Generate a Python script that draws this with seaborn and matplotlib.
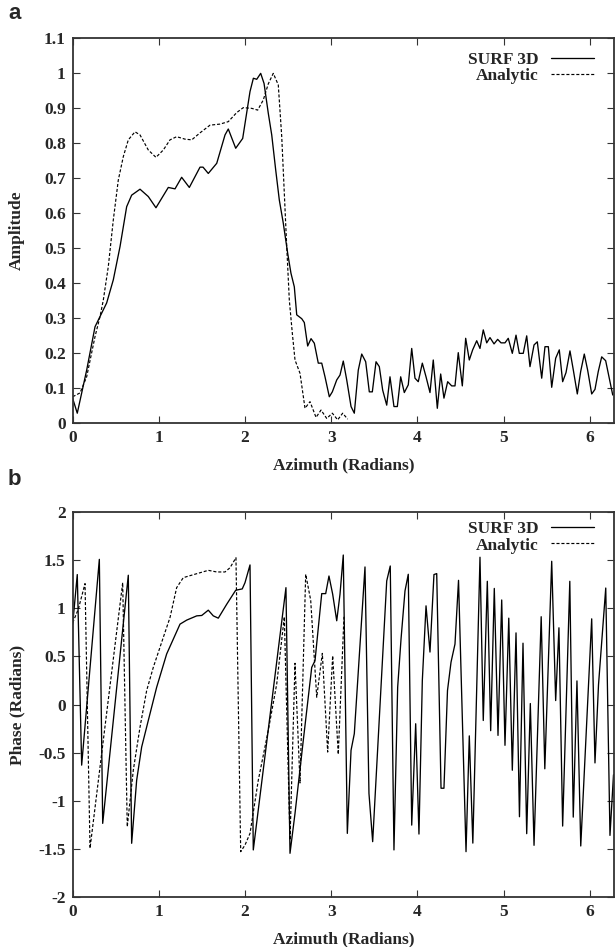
import matplotlib
matplotlib.use("Agg")
import matplotlib.pyplot as plt
import seaborn as sns
import pandas as pd
from matplotlib.lines import Line2D

# ---------------- data ----------------
amp_surf_x = [0.0, 0.053, 0.162, 0.259, 0.317, 0.394, 0.471, 0.549, 0.626, 0.684,
              0.781, 0.877, 0.966, 1.032, 1.109, 1.187, 1.264, 1.353, 1.477, 1.512,
              1.573, 1.671, 1.767, 1.805, 1.891, 1.972, 2.057, 2.096, 2.135, 2.181,
              2.22, 2.269, 2.309, 2.355, 2.397, 2.443, 2.494, 2.532, 2.571, 2.599,
              2.657, 2.687, 2.726, 2.765, 2.803, 2.849, 2.889, 2.927, 2.977, 3.012,
              3.063, 3.101, 3.139, 3.179, 3.229, 3.267, 3.313, 3.353, 3.399, 3.441,
              3.476, 3.519, 3.557, 3.596, 3.643, 3.681, 3.727, 3.766, 3.805, 3.847,
              3.893, 3.933, 3.971, 4.009, 4.056, 4.099, 4.145, 4.183, 4.23, 4.269,
              4.307, 4.35, 4.397, 4.435, 4.473, 4.52, 4.559, 4.601, 4.64, 4.687,
              4.725, 4.763, 4.803, 4.841, 4.888, 4.93, 4.969, 5.015, 5.053, 5.1,
              5.143, 5.181, 5.227, 5.267, 5.305, 5.352, 5.39, 5.441, 5.479, 5.518,
              5.557, 5.603, 5.645, 5.684, 5.723, 5.769, 5.808, 5.854, 5.893, 5.935,
              5.974, 6.021, 6.059, 6.097, 6.137, 6.183, 6.222, 6.265]
amp_surf_y = [0.07, 0.028, 0.151, 0.275, 0.304, 0.343, 0.409, 0.504, 0.618, 0.651,
              0.668, 0.647, 0.615, 0.642, 0.673, 0.669, 0.702, 0.673, 0.731, 0.731,
              0.713, 0.742, 0.823, 0.84, 0.785, 0.813, 0.947, 0.985, 0.982, 0.999,
              0.97, 0.885, 0.823, 0.723, 0.637, 0.571, 0.485, 0.428, 0.389, 0.309,
              0.298, 0.287, 0.22, 0.241, 0.228, 0.171, 0.171, 0.132, 0.075, 0.089,
              0.123, 0.137, 0.177, 0.123, 0.047, 0.028, 0.151, 0.197, 0.175, 0.089,
              0.089, 0.175, 0.161, 0.094, 0.051, 0.132, 0.047, 0.047, 0.132, 0.087,
              0.109, 0.213, 0.128, 0.118, 0.171, 0.132, 0.087, 0.18, 0.042, 0.14,
              0.071, 0.118, 0.106, 0.106, 0.201, 0.106, 0.242, 0.18, 0.209, 0.235,
              0.213, 0.266, 0.229, 0.244, 0.226, 0.239, 0.229, 0.229, 0.242, 0.199,
              0.251, 0.199, 0.199, 0.249, 0.161, 0.223, 0.232, 0.128, 0.218, 0.218,
              0.102, 0.185, 0.209, 0.118, 0.144, 0.206, 0.151, 0.083, 0.147, 0.197,
              0.151, 0.083, 0.096, 0.147, 0.189, 0.178, 0.132, 0.08]

amp_ana_x = [0.0, 0.085, 0.162, 0.259, 0.317, 0.355, 0.413, 0.471, 0.529, 0.587,
             0.645, 0.723, 0.781, 0.877, 0.966, 1.051, 1.129, 1.206, 1.303, 1.381,
             1.477, 1.593, 1.709, 1.805, 1.903, 1.979, 2.077, 2.146, 2.211, 2.269,
             2.327, 2.385, 2.425, 2.455, 2.483, 2.513, 2.548, 2.579, 2.637, 2.695,
             2.753, 2.823, 2.881, 2.947, 3.012, 3.074, 3.132, 3.19]
amp_ana_y = [0.075, 0.086, 0.132, 0.247, 0.304, 0.351, 0.447, 0.58, 0.694, 0.761,
             0.809, 0.832, 0.823, 0.78, 0.759, 0.78, 0.809, 0.818, 0.811, 0.809,
             0.829, 0.851, 0.854, 0.861, 0.887, 0.901, 0.899, 0.894, 0.923, 0.969,
             0.999, 0.966, 0.818, 0.656, 0.504, 0.351, 0.256, 0.18, 0.142, 0.042,
             0.061, 0.016, 0.037, 0.013, 0.028, 0.009, 0.028, 0.011]

ph_surf_x = [0.0, 0.053, 0.104, 0.309, 0.348, 0.645, 0.684, 0.742, 0.8, 0.877,
             0.974, 1.09, 1.245, 1.323, 1.439, 1.497, 1.573, 1.631, 1.689, 1.787,
             1.891, 1.967, 1.999, 2.057, 2.095, 2.474, 2.521, 2.579, 2.675, 2.773,
             2.811, 2.889, 2.935, 2.973, 3.016, 3.063, 3.101, 3.139, 3.186, 3.229,
             3.267, 3.391, 3.437, 3.48, 3.643, 3.684, 3.727, 3.77, 3.809, 3.855,
             3.893, 3.933, 3.979, 4.017, 4.056, 4.099, 4.145, 4.191, 4.223, 4.273,
             4.307, 4.348, 4.389, 4.435, 4.476, 4.563, 4.601, 4.642, 4.725, 4.763,
             4.81, 4.849, 4.891, 4.934, 4.977, 5.015, 5.059, 5.1, 5.143, 5.183,
             5.224, 5.267, 5.309, 5.352, 5.435, 5.477, 5.557, 5.603, 5.641, 5.684,
             5.767, 5.807, 5.85, 5.894, 6.021, 6.059, 6.1, 6.184, 6.233, 6.274]
ph_surf_y = [0.835, 1.35, -0.63, 1.508, -1.235, 1.343, -1.442, -0.787, -0.442, -0.166,
             0.179, 0.525, 0.835, 0.877, 0.921, 0.925, 0.98, 0.921, 0.897, 1.042,
             1.187, 1.201, 1.266, 1.45, -1.511, 1.214, -1.546, -1.132, -0.373, 0.386,
             0.455, 1.152, 1.152, 1.335, 1.146, 0.87, 1.146, 1.553, -1.339, -0.476,
             -0.303, 1.429, -0.924, -1.425, 1.284, 1.439, -1.511, 0.179, 0.68, 1.18,
             1.353, -1.253, -0.2, -1.346, 0.248, 1.025, 0.545, 1.35, 1.36, -0.87,
             -0.87, 0.145, 0.44, 0.628, 1.29, -1.529, -0.326, -1.44, 1.53, -0.166,
             1.28, -0.272, 1.206, -0.321, 1.086, -0.424, 0.897, -0.683, 0.744, -1.166,
             0.637, -1.342, 0.01, -1.463, 0.912, -0.668, 1.488, 0.041, 0.797, -1.263,
             1.28, -1.17, 0.245, -1.47, 0.89, -0.607, 0.205, 1.21, -1.36, -0.73]

ph_ana_x = [0.0, 0.065, 0.143, 0.201, 0.58, 0.633, 0.703, 0.781, 0.858, 0.935,
            1.051, 1.129, 1.206, 1.283, 1.439, 1.573, 1.671, 1.767, 1.825, 1.894,
            1.949, 1.999, 2.057, 2.153, 2.269, 2.367, 2.455, 2.521, 2.579, 2.637,
            2.703, 2.761, 2.831, 2.896, 2.958, 3.016, 3.081, 3.147]
ph_ana_y = [0.85, 0.99, 1.256, -1.494, 1.266, -1.27, -0.683, -0.235, 0.145, 0.386,
            0.697, 0.904, 1.214, 1.318, 1.359, 1.394, 1.377, 1.377, 1.421, 1.525,
            -1.529, -1.46, -1.339, -0.787, -0.269, 0.214, 0.911, -1.408, 0.428, -0.815,
            1.353, 1.084, 0.076, 0.531, -0.494, 0.507, -0.518, 0.911]

series_names = ["SURF 3D", "Analytic"]
x_ticks = [0, 1, 2, 3, 4, 5, 6]
amp_ticks = [0, 0.1, 0.2, 0.3, 0.4, 0.5, 0.6, 0.7, 0.8, 0.9, 1, 1.1]
amp_tick_labels = ["0", "0.1", "0.2", "0.3", "0.4", "0.5", "0.6", "0.7", "0.8", "0.9", "1", "1.1"]
ph_ticks = [-2, -1.5, -1, -0.5, 0, 0.5, 1, 1.5, 2]
ph_tick_labels = ["-2", "-1.5", "-1", "-0.5", "0", "0.5", "1", "1.5", "2"]

# ---------------- style ----------------
sns.set_theme(style="white")
plt.rcParams["font.family"] = ["Liberation Serif", "DejaVu Serif"]
plt.rcParams["font.weight"] = "bold"
plt.rcParams["axes.unicode_minus"] = False

W, H = 615, 947
fig = plt.figure(figsize=(W / 100, H / 100), dpi=100)

left = 72.7 / W
width = (614.3 - 72.7) / W
ax_h = 385 / H
ax1 = fig.add_axes([left, 1 - 423 / H, width, ax_h])
ax2 = fig.add_axes([left, 1 - 897 / H, width, ax_h])

solid_style = dict(color="black", linewidth=0.95)
dash_style = dict(color="black", linewidth=0.85, linestyle=(0, (2.6, 1.6)))


def draw(ax, sx, sy, axx, ayy, anchor_y):
    df_s = pd.DataFrame({"x": sx, "y": sy})
    df_a = pd.DataFrame({"x": axx, "y": ayy})
    sns.lineplot(data=df_s, x="x", y="y", ax=ax, sort=False, estimator=None, **solid_style)
    sns.lineplot(data=df_a, x="x", y="y", ax=ax, sort=False, estimator=None, **dash_style)
    handles = [Line2D([], [], **solid_style), Line2D([], [], **dash_style)]
    ax.legend(handles, series_names, loc="upper right", frameon=False, markerfirst=False,
              prop={"family": "Liberation Serif", "weight": "bold", "size": 12.5},
              handlelength=2.5, handletextpad=0.7, labelspacing=0.0,
              bbox_to_anchor=(0.9885, anchor_y), borderaxespad=0.4)


draw(ax1, amp_surf_x, amp_surf_y, amp_ana_x, amp_ana_y, 1.0)
draw(ax2, ph_surf_x, ph_surf_y, ph_ana_x, ph_ana_y, 1.012)

for ax in (ax1, ax2):
    ax.set_xlim(0, 6.2832)
    ax.set_xticks(x_ticks)
    ax.set_xticklabels([str(t) for t in x_ticks])
    ax.tick_params(direction="in", length=5, width=0.8, top=True, right=True,
                   bottom=True, left=True, labelsize=12.5, pad=5, color="#333333")
    for s in ax.spines.values():
        s.set_linewidth(1.3)
        s.set_color("#333333")
    ax.set_xlabel("Azimuth (Radians)", fontsize=12.5, fontweight="bold", labelpad=8)

ax1.set_ylim(0, 1.1)
ax1.set_yticks(amp_ticks)
ax1.set_yticklabels(amp_tick_labels)
ax1.set_ylabel("Amplitude", fontsize=12.5, fontweight="bold")
ax1.yaxis.set_label_coords(-0.088, 0.5)

ax2.set_ylim(-2, 2)
ax2.set_yticks(ph_ticks)
ax2.set_yticklabels(ph_tick_labels)
ax2.set_ylabel("Phase (Radians)", fontsize=12.5, fontweight="bold")
ax2.yaxis.set_label_coords(-0.088, 0.5)

for ax in (ax1, ax2):
    for lab in ax.get_xticklabels() + ax.get_yticklabels():
        lab.set_fontweight("bold")

fig.text(8 / W, 1 - 3 / H, "a", family=["Liberation Sans", "DejaVu Sans"], fontweight="bold",
         fontsize=16, va="top", ha="left")
fig.text(8 / W, 1 - 469 / H, "b", family=["Liberation Sans", "DejaVu Sans"], fontweight="bold",
         fontsize=16, va="top", ha="left")

fig.savefig("out.png", dpi=100)
